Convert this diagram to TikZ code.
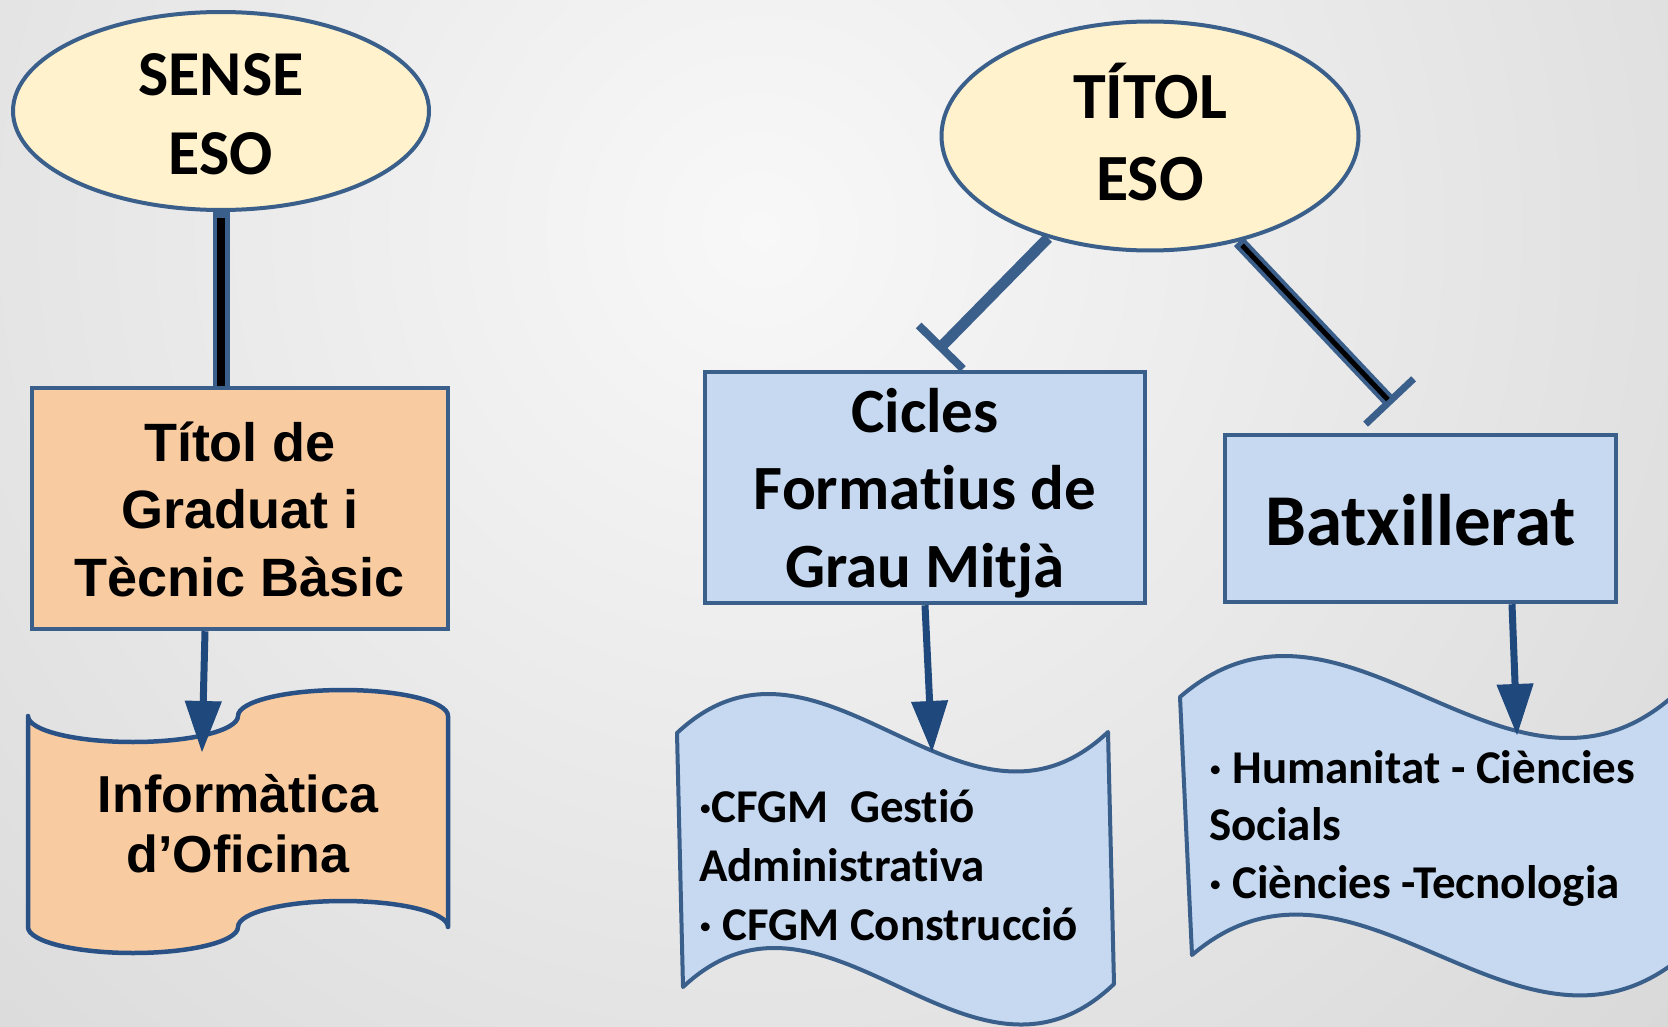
\documentclass[tikz,border=0pt]{standalone}
\usepackage{fontspec}
\newfontfamily\calfnt{Carlito}[Ligatures={NoCommon,NoContextual,NoRequired,NoRare}, Contextuals=NoAlternate]
\newfontfamily\arfnt{Liberation Sans}
\usetikzlibrary{shapes.geometric,arrows.meta}
\definecolor{bgin}{HTML}{F8F8F8}
\definecolor{bgout}{HTML}{B8B8B8}
\definecolor{ellfill}{HTML}{FFF2CC}
\definecolor{lineblue}{HTML}{3A5F8B}
\definecolor{orangefill}{HTML}{F8CBA0}
\definecolor{bluefill}{HTML}{C6D9F1}
\definecolor{arrowblue}{HTML}{1F497D}
\definecolor{odocline}{HTML}{2A5185}
\pgfdeclareradialshading{bgshade}{\pgfpoint{0bp}{0bp}}{color(0bp)=(bgin); color(50bp)=(bgout)}
\newcommand{\myhs}[1]{\rule{0pt}{#1pt}}
\newcommand{\myds}[1]{\rule[-#1pt]{0pt}{#1pt}}
\newcommand{\nolig}{\kern0pt{}}
\begin{document}
\begin{tikzpicture}[x=1pt,y=-1pt,
  ell/.style={ellipse, draw=lineblue, line width=4pt, fill=ellfill, inner sep=0pt, align=center},
  boxnode/.style={rectangle, draw=lineblue, line width=4.5pt, inner sep=0pt, align=center},
  docb/.style={draw=lineblue, fill=bluefill, line width=4pt, line join=round},
  odoc/.style={draw=odocline, fill=orangefill, line width=4.5pt, line join=round},
  doctext/.style={inner sep=0pt},
  arr/.style={draw=arrowblue, line width=7pt, -{Triangle[length=51pt,width=37pt,line width=1pt]}},
  tline/.style={draw=lineblue}
]
\useasboundingbox (0,0) rectangle (1668,1027);
\begin{scope}
\clip (0,0) rectangle (1668,1027);
\fill[bgout] (0,0) rectangle (1668,1027);
\shade[shading=bgshade] (760,230) circle[radius=1250];
\end{scope}

% ellipses
\node[ell, minimum width=416pt, minimum height=196pt,
  font=\calfnt\bfseries\fontsize{64}{79}\selectfont] (sense) at (221,111)
  {\myhs{55}SENSE\\ESO\myds{6}};
\node[ell, minimum width=417pt, minimum height=229pt,
  font=\calfnt\bfseries\fontsize{66}{82}\selectfont] (tit) at (1150,136)
  {\myhs{62}TÍTOL\\ESO\myds{14}};

% boxes
\node[boxnode, fill=orangefill, minimum width=416pt, minimum height=241pt,
  font=\arfnt\bfseries\fontsize{54}{67.5}\selectfont] (tgb) at (240,508.5)
  {\myhs{46}Títol de\\Graduat i\\Tècnic Bàsic\myds{6}};
\node[boxnode, fill=bluefill, minimum width=440pt, minimum height=229pt,
  font=\calfnt\bfseries\fontsize{63}{77.5}\selectfont] (cfgm) at (925,487.5)
  {\myhs{60}Cicles\\Format\nolig ius de\\Grau Mitjà\myds{16}};
\node[boxnode, fill=bluefill, minimum width=391pt, minimum height=167pt,
  font=\calfnt\bfseries\fontsize{73}{88}\selectfont] (batx) at (1420.5,518.5)
  {\myhs{70}Batxillerat\myds{17}};

% documents
\draw[odoc] (28,716)
  arc[start angle=180, end angle=0, x radius=105, y radius=26]
  arc[start angle=180, end angle=360, x radius=105, y radius=26]
  -- (448,927)
  arc[start angle=0, end angle=-180, x radius=105, y radius=26]
  arc[start angle=0, end angle=180, x radius=105, y radius=26]
  -- cycle;
\draw[docb] (677,733) .. controls (821,598) and (964,868) .. (1108,732)
  -- (1114,984) .. controls (970,1122) and (827,852) .. (683,987) -- cycle;
\draw[docb] (1180,697) .. controls (1344,555) and (1508,839) .. (1672,697)
  -- (1684,955) .. controls (1520,1095) and (1356,815) .. (1192,955) -- cycle;

\node[doctext, align=center, font=\arfnt\bfseries\fontsize{52}{60}\selectfont] (info) at (238,822)
  {\myhs{50}Informàtica\\d’Oficina\myds{10}};
\node[doctext, anchor=west, align=left, font=\calfnt\bfseries\fontsize{47}{59}\selectfont] (cfl) at (699,862)
  {\myhs{50}·CFGM~~Gest\nolig ió\\Administrat\nolig iva\\· CFGM Construcció\myds{12}};
\node[doctext, anchor=west, align=left, font=\calfnt\bfseries\fontsize{47}{57.5}\selectfont] (bfl) at (1209,821.5)
  {\myhs{50}· Humanitat - Ciències\\Socials\\· Ciències -Tecnologia\myds{12}};

% connector end points
\coordinate (otip) at (202,752);
\coordinate (c1tip) at (932,752);
\coordinate (c2tip) at (1517,735);
\coordinate (b1end) at (938,350);
\coordinate (b2end) at (1392,404);

% connectors
\draw[tline, line width=17pt] (sense.south) -- (sense.south |- tgb.north);
\draw[black, line width=8pt, shorten <=6pt] (sense.south) -- (sense.south |- tgb.north);
\draw[tline, line width=11pt, -{Bar[width=62pt,line width=8pt]}] (tit.225) -- (b1end);
\draw[tline, line width=13pt, -{Bar[width=66pt,line width=7pt]}] (tit.310) -- (b2end);
\draw[black, line width=5pt, shorten <=5pt, shorten >=6pt] (tit.310) -- (b2end);

\draw[arr] ([xshift=-35pt]tgb.south) -- (otip);
\draw[arr] (cfgm.south) -- (c1tip);
\draw[arr] ([xshift=91.5pt]batx.south) -- (c2tip);
\end{tikzpicture}
\end{document}
